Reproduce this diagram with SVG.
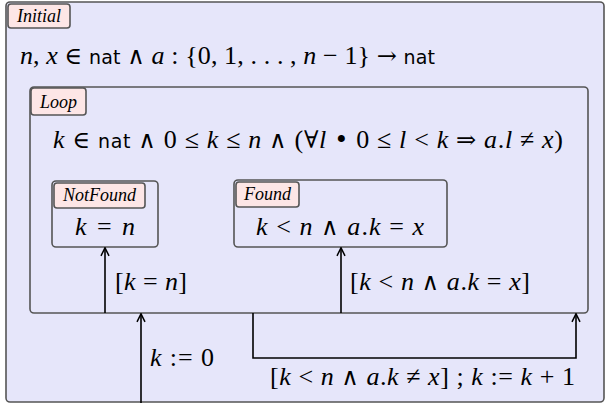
<svg xmlns="http://www.w3.org/2000/svg" width="608" height="406" viewBox="0 0 608 406">
<defs>
<marker id="arr" viewBox="0 0 10 10" refX="9" refY="5" markerWidth="10" markerHeight="10" markerUnits="userSpaceOnUse" orient="auto">
<path d="M1,1 L9,5 L1,9" fill="none" stroke="#000" stroke-width="1.5"/>
</marker>
</defs>
<style>
.box{fill:#e6e6fa;stroke:#555;stroke-width:1.6}
.tag{fill:#fde6e6;stroke:#555;stroke-width:1.6}
.tagt{font-family:"Liberation Serif",serif;font-style:italic;font-size:18px;text-anchor:middle;fill:#000}
.m{font-family:"Liberation Serif","DejaVu Serif",serif;font-size:26px;fill:#000}
.i{font-style:italic}
.s{font-family:"DejaVu Sans","Liberation Sans",sans-serif;font-size:19px}
.o{font-family:"DejaVu Serif",serif;font-size:24px}
.c{fill:none;stroke:#000;stroke-width:1.6}
</style>
<g id="Initial">
<rect class="box" x="6" y="2" width="598" height="400" rx="4"/>
<rect class="tag" x="8" y="4" width="62" height="24" rx="3"/>
<text class="tagt" x="39" y="22">Initial</text>
<text class="m" x="20" y="64" textLength="415" lengthAdjust="spacing"><tspan class="i">n</tspan>, <tspan class="i">x</tspan> <tspan class="o">∈</tspan> <tspan class="s">nat</tspan> <tspan class="o">∧</tspan> <tspan class="i">a</tspan> : {0, 1, . . . , <tspan class="i">n</tspan> − 1} <tspan class="o">→</tspan> <tspan class="s">nat</tspan></text>
</g>
<g id="Loop">
<rect class="box" x="30" y="87" width="558" height="226" rx="4"/>
<rect class="tag" x="31" y="88" width="55" height="27" rx="3"/>
<text class="tagt" x="58.5" y="108">Loop</text>
<text class="m" x="53" y="148" textLength="510" lengthAdjust="spacing"><tspan class="i">k</tspan> <tspan class="o">∈</tspan> <tspan class="s">nat</tspan> <tspan class="o">∧</tspan> 0 ≤ <tspan class="i">k</tspan> ≤ <tspan class="i">n</tspan> <tspan class="o">∧</tspan> (<tspan class="o">∀</tspan><tspan class="i">l</tspan> <tspan class="o">•</tspan> 0 ≤ <tspan class="i">l</tspan> &lt; <tspan class="i">k</tspan> <tspan class="o">⇒</tspan> <tspan class="i">a</tspan>.<tspan class="i">l</tspan> ≠ <tspan class="i">x</tspan>)</text>
</g>
<g id="NotFound">
<rect class="box" x="52" y="181" width="106" height="66" rx="4"/>
<rect class="tag" x="54" y="183" width="91" height="25" rx="3"/>
<text class="tagt" x="99.5" y="201">NotFound</text>
<text class="m" x="75" y="235" textLength="60" lengthAdjust="spacing"><tspan class="i">k</tspan> = <tspan class="i">n</tspan></text>
</g>
<g id="Found">
<rect class="box" x="234" y="180" width="213" height="67" rx="4"/>
<rect class="tag" x="236" y="182" width="63" height="25" rx="3"/>
<text class="tagt" x="267.5" y="200">Found</text>
<text class="m" x="256" y="235" textLength="168" lengthAdjust="spacing"><tspan class="i">k</tspan> &lt; <tspan class="i">n</tspan> <tspan class="o">∧</tspan> <tspan class="i">a</tspan>.<tspan class="i">k</tspan> = <tspan class="i">x</tspan></text>
</g>
<g id="connectors">
<path class="c" d="M141,403 V313.8" marker-end="url(#arr)"/>
<path class="c" d="M105,313 V247.8" marker-end="url(#arr)"/>
<path class="c" d="M341,313 V247.8" marker-end="url(#arr)"/>
<path class="c" d="M253,313 V358 H576 V313.8" marker-end="url(#arr)"/>
<text class="m" x="150" y="366" textLength="64" lengthAdjust="spacing"><tspan class="i">k</tspan> := 0</text>
<text class="m" x="115" y="290" textLength="72" lengthAdjust="spacing">[<tspan class="i">k</tspan> = <tspan class="i">n</tspan>]</text>
<text class="m" x="350" y="290" textLength="180" lengthAdjust="spacing">[<tspan class="i">k</tspan> &lt; <tspan class="i">n</tspan> <tspan class="o">∧</tspan> <tspan class="i">a</tspan>.<tspan class="i">k</tspan> = <tspan class="i">x</tspan>]</text>
<text class="m" x="270" y="385" textLength="305" lengthAdjust="spacing">[<tspan class="i">k</tspan> &lt; <tspan class="i">n</tspan> <tspan class="o">∧</tspan> <tspan class="i">a</tspan>.<tspan class="i">k</tspan> ≠ <tspan class="i">x</tspan>] ; <tspan class="i">k</tspan> := <tspan class="i">k</tspan> + 1</text>
</g>
</svg>
